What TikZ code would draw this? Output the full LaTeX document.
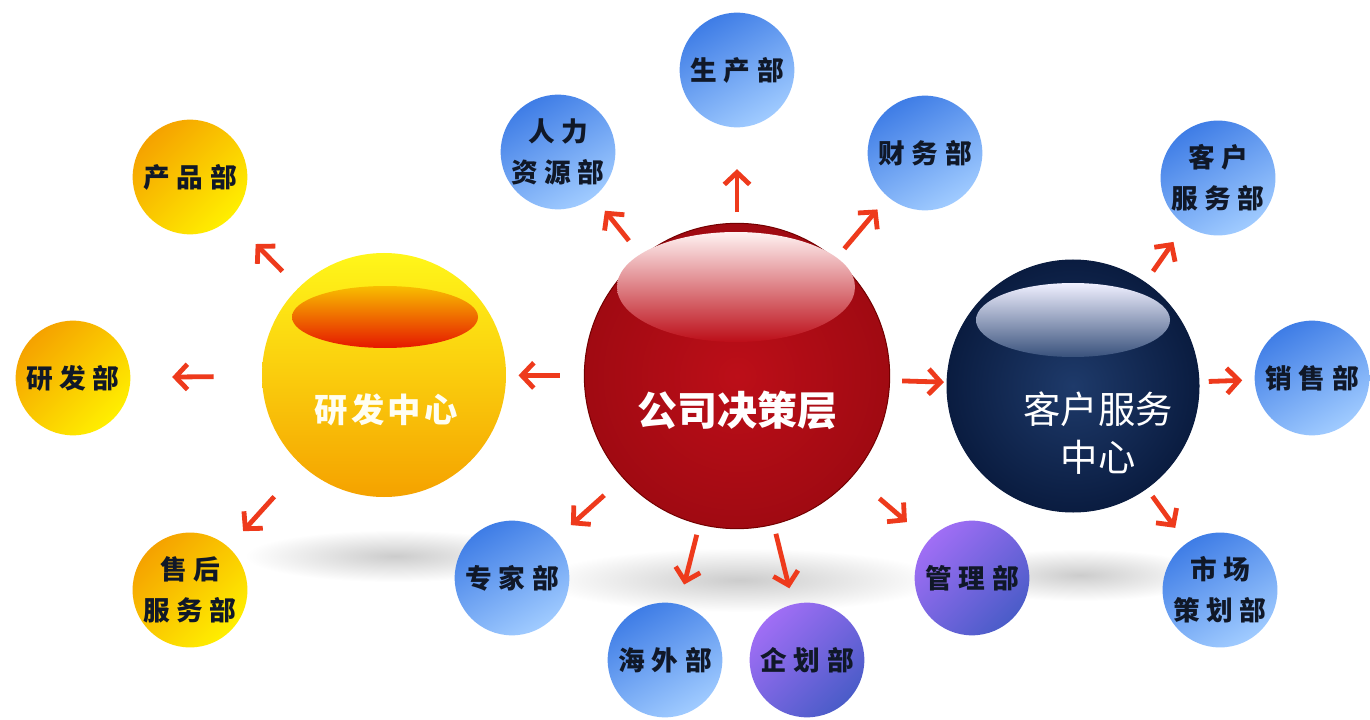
\documentclass[tikz,border=0pt]{standalone}
\usepackage{fontspec}
\usetikzlibrary{arrows.meta}
\newfontfamily\cjk{Noto Sans CJK SC}
\newfontfamily\deptfont{Noto Sans CJK SC}[LetterSpace=25]
\newfontfamily\centerfont{Noto Sans CJK SC}[LetterSpace=10]

\definecolor{ydark}{HTML}{F5A200}
\definecolor{ylight}{HTML}{FFEF00}
\definecolor{bdark}{HTML}{3F7DE6}
\definecolor{blight}{HTML}{A0CBFF}
\definecolor{pdark}{HTML}{A06EF5}
\definecolor{plight}{HTML}{4A5CC8}
\definecolor{arrowred}{HTML}{EE3A1C}
\definecolor{deptink}{HTML}{101828}
\definecolor{redin}{HTML}{BC0E18}
\definecolor{redout}{HTML}{A00A12}
\definecolor{navyin}{HTML}{1E3A6A}
\definecolor{navyout}{HTML}{0A1C40}

\tikzset{every picture/.style={line width=0.75pt}}
\tikzset{
  dept/.style={circle, minimum size=86pt, inner sep=0pt, align=center,
    text=deptink, font=\deptfont\bfseries\fontsize{20}{31}\selectfont},
  ydept/.style={dept, top color=ydark, bottom color=ylight, shading angle=45},
  bdept/.style={dept, top color=bdark, bottom color=blight, shading angle=30},
  pdept/.style={dept, top color=pdark, bottom color=plight, shading angle=45},
  bigtext/.style={text=white, inner sep=0pt, align=center, font=\cjk\bfseries\fontsize{30}{36}\selectfont},
  arr/.style={draw=arrowred, line width=3.6pt, -{Straight Barb[length=9pt,width=19pt]}},
  shadowblob/.style={inner color=black!20, outer color=white}
}

\begin{document}
\begin{tikzpicture}[x=0.75pt,y=0.75pt,yscale=-1,xscale=1]
        \useasboundingbox (0,0) rectangle (1370,720);
        \fill[white] (0,0) rectangle (1370,720);

        %Shape: Ellipse (shadows)
        \shade[shadowblob] (395,556) ellipse [x radius=150, y radius=26];
        \shade[shadowblob] (740,580) ellipse [x radius=200, y radius=32];
        \shade[shadowblob] (1080,575) ellipse [x radius=130, y radius=26];

        %Shape: Circle 研发中心
        \node[circle, minimum size=183pt, inner sep=0pt, top color=ylight!60!yellow!90!white, bottom color=ydark] (yfzx) at (384,375) {};
        \shade[top color=ydark!70!yellow, bottom color=red!80!orange!90!black] (385,317) ellipse [x radius=93, y radius=31];
        % Text Node
        \node[bigtext, font=\centerfont\bfseries\fontsize{25}{30}\selectfont, text=white!95!yellow] (yfzxtext) at (386,410) {研发中心};

        %Shape: Circle 公司决策层
        \node[circle, minimum size=229pt, inner sep=0pt, inner color=redin, outer color=redout, draw=red!45!black] (gsjc) at (737,376) {};
        \shade[top color=white!95!red, bottom color=redin] (736,287) ellipse [x radius=119, y radius=55];
        % Text Node
        \node[bigtext] (gsjctext) at (737,410) {公司决策层};

        %Shape: Circle 客户服务中心
        \node[circle, minimum size=189pt, inner sep=0pt, inner color=navyin, outer color=navyout, draw=navyout] (khfw) at (1073,386) {};
        \shade[top color=white!94!blue, bottom color=navyin!80!white!60!navyin] (1073,320) ellipse [x radius=97, y radius=37];
        % Text Node
        \node[bigtext, font=\cjk\fontsize{28}{36}\selectfont] (khfwtext) at (1098,433) {客户服务\\中心};

        %Shape: Circle (departments)
        \node[ydept] (cpb) at (190,177) {产品部};
        \node[ydept] (yfb) at (73,378) {研发部};
        \node[ydept] (shfw) at (190,590) {售后\\服务部};
        \node[bdept] (rlzy) at (558,152) {人力\\资源部};
        \node[bdept] (scb) at (737,70) {生产部};
        \node[bdept] (cwb) at (925,153) {财务部};
        \node[bdept] (zjb) at (512,578) {专家部};
        \node[bdept] (hwb) at (665,660) {海外部};
        \node[pdept] (qhb) at (807,660) {企划部};
        \node[pdept] (glb) at (972,578) {管理部};
        \node[bdept] (khfwb) at (1218,178) {客户\\服务部};
        \node[bdept] (xsb) at (1312,378) {销售部};
        \node[bdept] (scch) at (1220,590) {市场\\策划部};

        %Straight Lines
        \draw[arr, shorten <=17pt, shorten >=27pt] (yfzx) -- (cpb);
        \draw[arr, shorten <=36pt, shorten >=31pt] (yfzx) -- (yfb);
        \draw[arr, shorten <=31pt, shorten >=16pt] (yfzx) -- (shfw);
        %Straight Lines
        \draw[arr, shorten <=18pt, shorten >=9pt] (gsjc) -- (yfzx);
        \draw[arr, shorten <=15pt, shorten >=13pt] (gsjc) -- (rlzy);
        \draw[arr, shorten <=8pt, shorten >=31pt] (gsjc) -- (scb);
        \draw[arr, shorten <=10pt, shorten >=12pt] (gsjc) -- (cwb);
        \draw[arr, shorten <=9pt, shorten >=2pt] (gsjc) -- (khfw);
        \draw[arr, shorten <=19pt, shorten >=16pt] (gsjc) -- (zjb);
        \draw[arr, shorten <=8pt, shorten >=15pt] (gsjc) -- (hwb);
        \draw[arr, shorten <=7pt, shorten >=12pt] (gsjc) -- (qhb);
        \draw[arr, shorten <=26pt, shorten >=21pt] (gsjc) -- (glb);
        %Straight Lines
        \draw[arr, shorten <=10pt, shorten >=15pt] (khfw) -- (khfwb);
        \draw[arr, shorten <=7pt, shorten >=9pt] (khfw) -- (xsb);
        \draw[arr, shorten <=7pt, shorten >=14pt] (khfw) -- (scch);
\end{tikzpicture}
\end{document}
